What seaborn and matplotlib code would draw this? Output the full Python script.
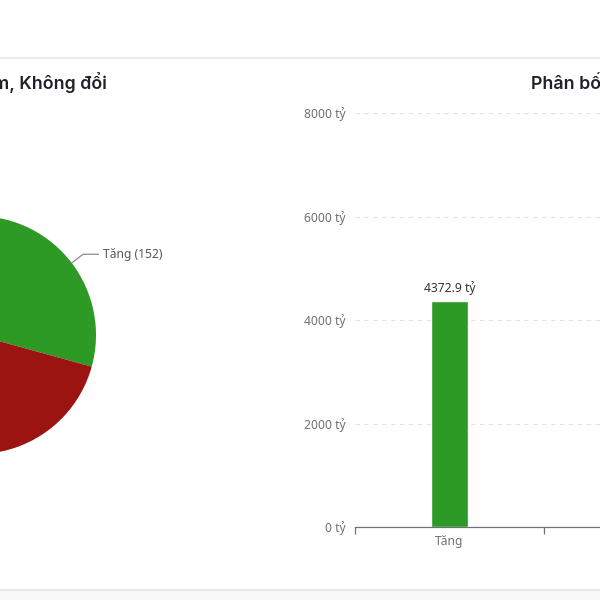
import numpy as np
import pandas as pd
import seaborn as sns
import matplotlib.pyplot as plt
from matplotlib.lines import Line2D


# data
trend_labels = ["Tăng", "Giảm", "Không đổi"]
trend_counts = [152, 320, 47]
trend_colors = ["#2c9a24", "#9b1412", "#9e9e9e"]

bar_values = [4372.9, 7120.4, 850.2]
y_ticks = [0, 2000, 4000, 6000, 8000]


sns.set_theme(style="white")
plt.rcParams['font.family'] = ['Noto Sans', 'DejaVu Sans']

fig = plt.figure(figsize=(6, 6), dpi=100)
fig.patch.set_facecolor("white")

# card separators
fig.add_artist(Line2D([0, 1], [1 - 58 / 600, 1 - 58 / 600], color="#ececec", lw=1.6))
fig.add_artist(Line2D([0, 1], [1 - 590 / 600, 1 - 590 / 600], color="#e8e8e8", lw=1.6))
fig.add_artist(plt.Rectangle((0, 0), 1, 1 - 591 / 600, color="#f8f8f8", zorder=-1))

# titles (the dashboard is cropped, so both run past the edge)
fig.text(107 / 600, 1 - 83 / 600, "Phân bố Tăng, Giảm, Không đổi", ha="right", va="center",
         fontsize=12.8, fontweight="semibold", color="#1f2329", family=["Inter", "DejaVu Sans"])
fig.text(531 / 600, 1 - 83 / 600, "Phân bố giá trị giao dịch", ha="left", va="center",
         fontsize=12.8, fontweight="semibold", color="#1f2329", family=["Inter", "DejaVu Sans"])

#%% pie
pie_ax = fig.add_axes([-142 / 600, 146 / 600, 238 / 600, 238 / 600])
wedges, _ = pie_ax.pie(trend_counts, colors=trend_colors, startangle=90, counterclock=False,
                       radius=1, wedgeprops=dict(linewidth=0))
pie_ax.set_xlim(-1, 1)
pie_ax.set_ylim(-1, 1)
pie_ax.set_aspect("equal")
pie_ax.axis("off")

for w, lab, cnt in zip(wedges, trend_labels, trend_counts):
    ang = np.deg2rad((w.theta1 + w.theta2) / 2)
    x0, y0 = np.cos(ang), np.sin(ang)
    if x0 < 0:
        # label sits outside the cropped view
        continue
    x1, y1 = 1.12 * x0, 1.12 * y0
    x2 = x1 + 0.13
    pie_ax.plot([x0, x1, x2], [y0, y1, y1], color="#8a8a8a", lw=0.9, clip_on=False)
    pie_ax.text(x2 + 0.04, y1, f"{lab} ({cnt})", ha="left", va="center",
                fontsize=8.7, color="#555555", clip_on=False)

#%% bar
bar_ax = fig.add_axes([355 / 600, 73 / 600, 567 / 600, 414 / 600])
df = pd.DataFrame({"trend": trend_labels, "value": bar_values})
sns.barplot(data=df, x="trend", y="value", hue="trend", palette=trend_colors,
            width=0.2, legend=False, ax=bar_ax, saturation=1)
bar_ax.set_xlim(-0.5, 2.5)
bar_ax.set_ylim(0, 8000)
bar_ax.set_yticks(y_ticks)
bar_ax.set_yticklabels([f"{v} tỷ" for v in y_ticks], fontsize=8.7, color="#6e7079")
bar_ax.tick_params(axis="y", length=0, pad=7)
bar_ax.yaxis.grid(True, linestyle=(0, (4, 4)), color="#e3e3e3", lw=0.8)
bar_ax.set_axisbelow(True)

bar_ax.set_xticks([-0.5, 0.5, 1.5, 2.5])
bar_ax.set_xticklabels([])
bar_ax.set_xticks([0, 1, 2], minor=True)
bar_ax.set_xticklabels(trend_labels, minor=True, fontsize=8.7, color="#6e7079")
bar_ax.tick_params(axis="x", which="major", bottom=True, length=5, width=0.9,
                   color="#6e7079", direction="out")
bar_ax.tick_params(axis="x", which="minor", bottom=True, length=0, pad=6)
bar_ax.set_xlabel("")
bar_ax.set_ylabel("")

for s in ["top", "right", "left"]:
    bar_ax.spines[s].set_visible(False)
bar_ax.spines["bottom"].set_color("#6e7079")
bar_ax.spines["bottom"].set_linewidth(0.9)

for i, v in enumerate(bar_values):
    bar_ax.text(i, v + 110, f"{v} tỷ", ha="center", va="bottom", fontsize=8.7, color="#333333")

fig.savefig("out.png", dpi=100)
